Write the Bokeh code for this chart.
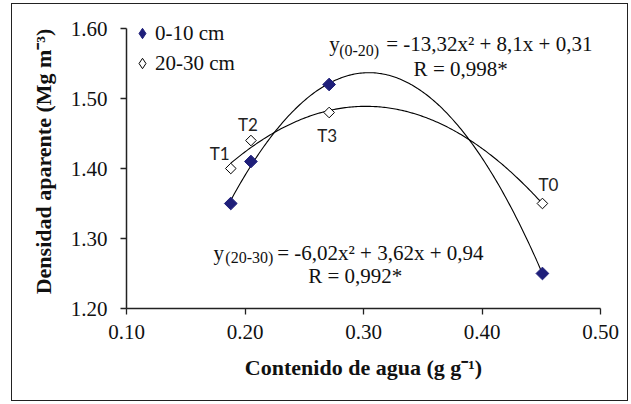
import numpy as np
from bokeh.plotting import figure
from bokeh.models import (Range1d, FixedTicker, PrintfTickFormatter, Legend, LegendItem,
                          Label, ColumnDataSource)
from bokeh.core.properties import value
from bokeh.embed import file_html
from bokeh.resources import INLINE

# ---------------- data ----------------
treatments = ["T1", "T2", "T3", "T0"]
water_content = [0.188, 0.205, 0.271, 0.451]
density_0_10 = [1.35, 1.41, 1.52, 1.25]
density_20_30 = [1.40, 1.44, 1.48, 1.35]
x_ticks = [0.10, 0.20, 0.30, 0.40, 0.50]
y_ticks = [1.20, 1.30, 1.40, 1.50, 1.60]
series_names = ["0-10 cm", "20-30 cm"]
eq_0_20 = ["y", "(0-20)", "= -13,32x\u00b2 + 8,1x + 0,31", "R = 0,998*"]
eq_20_30 = ["y", "(20-30)", "= -6,02x\u00b2 + 3,62x + 0,94", "R = 0,992*"]

# label offsets (style) for treatment names
label_dx = [-11, -3, -2, 6]
label_dy = [-15, -16, 23, -19]

SERIF = "Liberation Serif"
NAVY = "#1f1f7a"

p = figure(width=615, height=396, output_backend="svg", toolbar_location=None,
           x_range=Range1d(0.10, 0.50), y_range=Range1d(1.20, 1.62),
           min_border_left=114, min_border_right=29, min_border_top=10, min_border_bottom=94)
p.outline_line_color = None
p.xgrid.visible = False
p.ygrid.visible = False
p.background_fill_color = "white"
p.border_fill_color = "white"
p.styles = {"border": "1.5px solid #222222", "box-sizing": "content-box",
            "margin-left": "11px", "margin-top": "3px"}

for ax in (p.xaxis[0], p.yaxis[0]):
    ax.axis_line_color = "#222222"
    ax.axis_line_width = 1.5
    ax.major_tick_line_color = "#222222"
    ax.major_tick_line_width = 1.3
    ax.major_tick_out = 6
    ax.major_tick_in = 0
    ax.minor_tick_line_color = None
    ax.major_label_text_font = SERIF
    ax.major_label_text_font_size = "21px"
    ax.major_label_text_color = "#111111"
    ax.axis_label_text_font = SERIF
    ax.axis_label_text_font_style = "bold"
    ax.axis_label_text_font_size = "22px"
    ax.axis_label_text_color = "#111111"

p.yaxis.bounds = (1.20, 1.60)
p.xaxis.ticker = FixedTicker(ticks=x_ticks)
p.yaxis.ticker = FixedTicker(ticks=y_ticks)
p.xaxis.formatter = PrintfTickFormatter(format="%.2f")
p.yaxis.formatter = PrintfTickFormatter(format="%.2f")
p.xaxis.axis_label = "Contenido de agua (g g\u207b\u00b9)"
p.yaxis.axis_label = "Densidad aparente (Mg m\u207b\u00b3)"
p.xaxis.major_label_standoff = 10
p.yaxis.major_label_standoff = 13
p.xaxis.axis_label_standoff = 13
p.yaxis.axis_label_standoff = 12

# ---------------- trend lines (least-squares quadratic fit of the data) ----------------
xs = np.linspace(min(water_content), max(water_content), 200)
c1 = np.polyfit(water_content, density_0_10, 2)
c2 = np.polyfit(water_content, density_20_30, 2)
p.line(xs, np.polyval(c1, xs), line_color="black", line_width=1.1)
p.line(xs, np.polyval(c2, xs), line_color="black", line_width=1.1)

# ---------------- points ----------------
src = ColumnDataSource(dict(x=water_content, y1=density_0_10, y2=density_20_30,
                            t=treatments, dx=label_dx, dy=label_dy))
# legend keys (diamond shaped), drawn small underneath the visible markers
k1 = p.scatter("x", "y1", source=src, marker="diamond", size=6,
               fill_color=NAVY, line_color=NAVY, line_width=1)
k2 = p.scatter("x", "y2", source=src, marker="diamond", size=5,
               fill_color="white", line_color="black", line_width=1)
p.scatter("x", "y1", source=src, marker="square", angle=np.pi / 4, size=9,
          fill_color=NAVY, line_color=NAVY, line_width=1)
p.scatter("x", "y2", source=src, marker="square", angle=np.pi / 4, size=7.5,
          fill_color="white", line_color="black", line_width=1)

p.text("x", "y2", text="t", source=src, x_offset="dx", y_offset="dy",
       text_align="center", text_baseline="middle", text_font=value("Lato"),
       text_font_size="17px", text_color="#222222")

# ---------------- legend ----------------
legend = Legend(items=[LegendItem(label=series_names[0], renderers=[k1]),
                       LegendItem(label=series_names[1], renderers=[k2])],
                location=(3, 230), orientation="vertical",
                glyph_width=26, glyph_height=30, label_height=30, spacing=0,
                label_standoff=0, padding=2, margin=0,
                label_text_font=SERIF, label_text_font_size="21px",
                label_text_color="#111111",
                background_fill_alpha=0, border_line_color=None)
p.add_layout(legend)

# ---------------- equations ----------------
def eq(parts, x_y, x_sub, y_sub, x_rest, x_r, y_r):
    lbls = [
        Label(x=x_y[0], y=x_y[1], text=parts[0], text_font=SERIF, text_font_size="21px",
              text_baseline="alphabetic", text_color="#111111"),
        Label(x=x_sub, y=y_sub, text=parts[1], text_font=SERIF, text_font_size="16px",
              text_baseline="alphabetic", text_color="#111111"),
        Label(x=x_rest, y=x_y[1], text=parts[2], text_font=SERIF, text_font_size="21px",
              text_baseline="alphabetic", text_color="#111111"),
        Label(x=x_r, y=y_r, text=parts[3], text_font=SERIF, text_font_size="21px",
              text_baseline="alphabetic", text_align="center", text_color="#111111"),
    ]
    for l in lbls:
        p.add_layout(l)

eq(eq_0_20, (0.2710, 1.5781), 0.2795, 1.5686, 0.3191, 0.3820, 1.5424)
eq(eq_20_30, (0.1735, 1.2790), 0.1834, 1.2729, 0.2272, 0.2930, 1.2471)

open("out.html", "w").write(file_html(p, INLINE))
